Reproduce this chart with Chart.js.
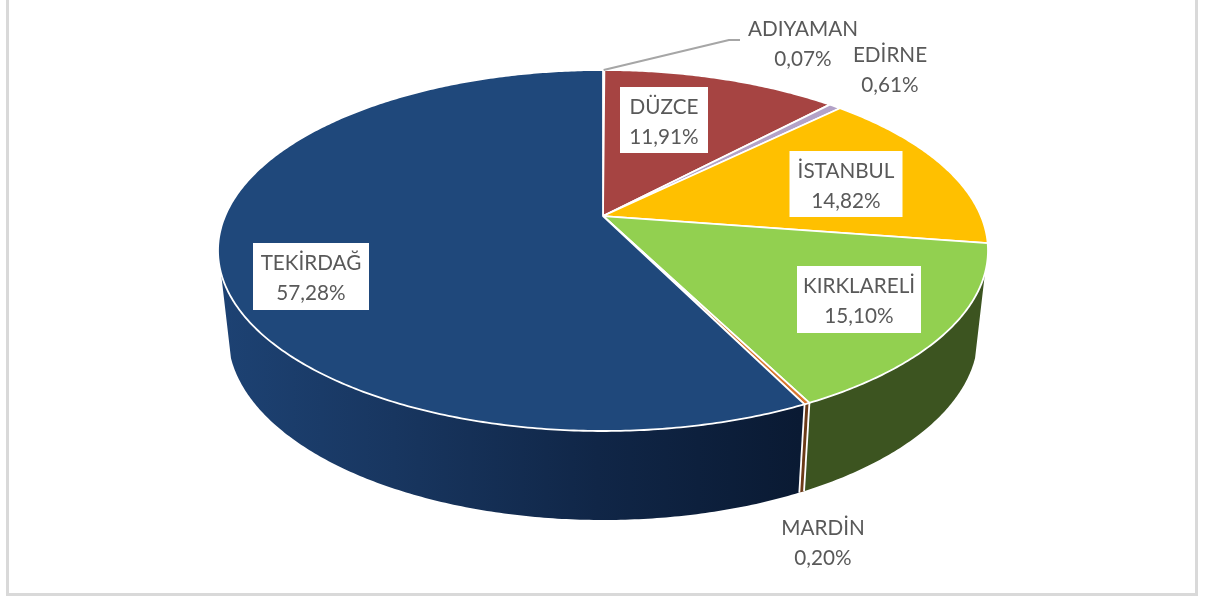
<!DOCTYPE html>
<html lang="tr">
<head>
<meta charset="utf-8">
<title>Pasta grafik</title>
<style>
html,body{margin:0;padding:0;background:#fff;overflow:hidden}
#wrap{position:relative;width:1211px;height:596px}
canvas{display:block}
</style>
<script src="https://cdn.jsdelivr.net/npm/chart.js@4"></script>
</head>
<body>
<div id="wrap"><canvas id="c" width="1211" height="596"></canvas></div>
<script>
const categories = ['ADIYAMAN','DÜZCE','EDİRNE','İSTANBUL','KIRKLARELİ','MARDİN','TEKİRDAĞ'];
const shares = [0.07,11.91,0.61,14.82,15.10,0.20,57.28];
const topColors = ['#9aa5b1','#a64442','#b3a2c7','#ffc000','#92d050','#d9772f','#1f487b'];
const wallColors = ['#5a6570','#5e2523','#6a5a80','#8a6800','#3c5420','#6b3a17',null];

// label layout (centre x, first-line centre y, boxed?)
const labelLayout = [
  {x:803,y:29,box:false},
  {x:664,y:107,box:true,w:88,h:66},
  {x:890,y:55,box:false},
  {x:846,y:171,box:true,w:113,h:66},
  {x:859,y:286,box:true,w:124,h:67},
  {x:823,y:528,box:false},
  {x:311,y:263,box:true,w:116,h:67}
];

// perspective projection of the flat pie on to the top and bottom rims
const tilt = -0.191;
const topRim = {cx:603,cy:250.5,rx:385,ry:180.5};
const lowRim = {cx:603,cy:335,rx:375,ry:185};
const wallStart = 108*Math.PI/180;

function project(rim,theta){
  const u=Math.sin(theta), v=-Math.cos(theta), d=1+tilt*v;
  return [rim.cx+rim.rx*Math.sqrt(1-tilt*tilt)*u/d, rim.cy+rim.ry*(v+tilt)/d];
}
function apex(){ return [topRim.cx, topRim.cy+topRim.ry*tilt]; }
function samples(a,b){
  const n=Math.max(2,Math.ceil((b-a)/0.01)), out=[];
  for(let i=0;i<=n;i++) out.push(a+(b-a)*i/n);
  return out;
}

const pie3d = {
  id:'pie3d',
  beforeDatasetsDraw(chart){
    const ctx=chart.ctx, arcs=chart.getDatasetMeta(0).data;
    ctx.save();
    ctx.fillStyle='#d9d9d9';
    ctx.fillRect(6,0,3,596);
    ctx.fillRect(1195,0,3,596);
    ctx.fillRect(6,593,1192,3);

    const wallGrad=ctx.createLinearGradient(220,0,800,0);
    wallGrad.addColorStop(0,'#1d4273');
    wallGrad.addColorStop(0.3,'#183660');
    wallGrad.addColorStop(0.65,'#102647');
    wallGrad.addColorStop(1,'#0a1a33');

    // side walls
    arcs.forEach((arc,i)=>{
      const a=Math.max(arc.startAngle+Math.PI/2,wallStart);
      const b=Math.min(arc.endAngle+Math.PI/2,2*Math.PI-wallStart);
      if(b<=a) return;
      const th=samples(a,b);
      ctx.beginPath();
      th.forEach((t,k)=>{const p=project(topRim,t); k?ctx.lineTo(p[0],p[1]):ctx.moveTo(p[0],p[1]);});
      th.slice().reverse().forEach(t=>{const p=project(lowRim,t); ctx.lineTo(p[0],p[1]);});
      ctx.closePath();
      ctx.fillStyle=wallColors[i]||wallGrad;
      ctx.fill();
    });
    // white dividers on the wall
    arcs.forEach(arc=>{
      const t=arc.endAngle+Math.PI/2;
      if(t<=wallStart||t>=2*Math.PI-wallStart) return;
      const p=project(topRim,t), q=project(lowRim,t);
      ctx.beginPath();ctx.moveTo(p[0],p[1]);ctx.lineTo(q[0],q[1]);
      ctx.strokeStyle='#fff';ctx.lineWidth=1.8;ctx.stroke();
    });
    // top faces
    const ap=apex();
    arcs.forEach((arc,i)=>{
      ctx.beginPath();
      ctx.moveTo(ap[0],ap[1]);
      samples(arc.startAngle+Math.PI/2,arc.endAngle+Math.PI/2).forEach(t=>{
        const p=project(topRim,t);ctx.lineTo(p[0],p[1]);
      });
      ctx.closePath();
      ctx.fillStyle=topColors[i];
      ctx.fill();
      ctx.strokeStyle='#fff';ctx.lineWidth=1.8;ctx.lineJoin='round';ctx.stroke();
    });

    // leader line for the smallest slice
    const s=project(topRim,arcs[0].startAngle+Math.PI/2+0.002);
    ctx.beginPath();ctx.moveTo(s[0],s[1]);ctx.lineTo(729,40);ctx.lineTo(740,40);
    ctx.strokeStyle='#a6a6a6';ctx.lineWidth=2;ctx.stroke();

    // data labels
    ctx.font='20.7px Lato, "Open Sans", sans-serif';
    ctx.textAlign='center';ctx.textBaseline='middle';
    categories.forEach((name,i)=>{
      const L=labelLayout[i];
      if(L.box){
        ctx.fillStyle='#fff';
        ctx.fillRect(L.x-L.w/2,L.y-20,L.w,L.h);
      }
      ctx.fillStyle='#595959';
      ctx.fillText(name,L.x,L.y);
      ctx.fillText(shares[i].toFixed(2).replace('.',',')+'%',L.x,L.y+30);
    });
    ctx.restore();
    return false;
  }
};

new Chart(document.getElementById('c'),{
  type:'pie',
  data:{labels:categories,datasets:[{data:shares,backgroundColor:topColors,borderColor:'#fff'}]},
  options:{
    responsive:false,
    animation:false,
    plugins:{legend:{display:false},tooltip:{enabled:false},title:{display:false}}
  },
  plugins:[pie3d]
});
</script>
</body>
</html>
